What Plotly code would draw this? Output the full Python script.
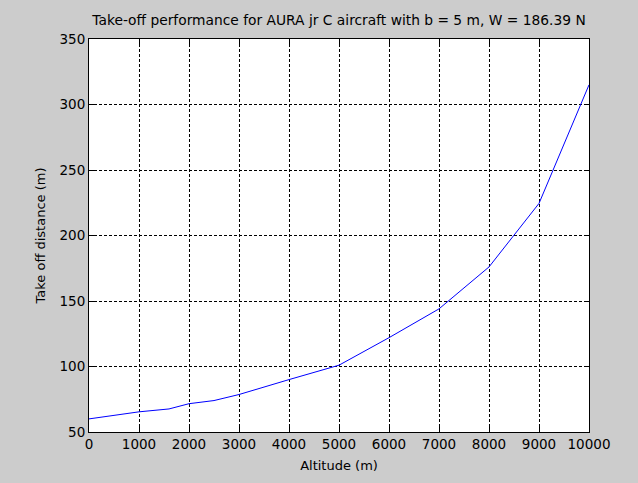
import plotly.graph_objects as go

# Take-off distance versus altitude
altitude_m = [0, 1000, 1600, 2000, 2500, 3000, 4000, 5000, 6000, 7000, 8000, 9000, 10000]
takeoff_distance_m = [60, 65.4, 67.6, 71.6, 74.0, 78.6, 90.0, 101.0, 122.0, 144.0, 176.0, 224.5, 315.0]

x_ticks = [0, 1000, 2000, 3000, 4000, 5000, 6000, 7000, 8000, 9000, 10000]
y_ticks = [50, 100, 150, 200, 250, 300, 350]

FONT = "DejaVu Sans, Liberation Sans, sans-serif"

fig = go.Figure()
fig.add_trace(go.Scatter(
    x=altitude_m, y=takeoff_distance_m, mode="lines",
    line=dict(color="#0000ff", width=1),
    showlegend=False, hoverinfo="skip",
))

axis_common = dict(
    showline=True, linecolor="black", linewidth=1, mirror="ticks",
    ticks="inside", ticklen=5, tickcolor="black", tickwidth=1,
    showgrid=True, gridcolor="black", gridwidth=1, griddash="3px,2px",
    zeroline=False,
    tickfont=dict(family=FONT, size=13.5, color="black"),
)

fig.update_xaxes(
    range=[0, 10000], tickvals=x_ticks, ticktext=[str(v) for v in x_ticks],
    title=dict(text="Altitude (m)", font=dict(family=FONT, size=13, color="black"), standoff=9),
    **axis_common,
)
fig.update_yaxes(
    range=[50, 350], tickvals=y_ticks, ticktext=[str(v) for v in y_ticks],
    title=dict(text="Take off distance (m)", font=dict(family=FONT, size=13, color="black"), standoff=10),
    **axis_common,
)

fig.update_layout(
    width=638, height=483,
    margin=dict(l=89, r=49, t=39, b=51),
    paper_bgcolor="#cccccc", plot_bgcolor="white",
    title=dict(
        text="Take-off performance for AURA jr C aircraft with b = 5 m, W = 186.39 N",
        font=dict(family=FONT, size=13.8, color="black"),
        x=0.5, xanchor="center", xref="paper",
        y=1 - 20 / 483, yanchor="middle", yref="container",
    ),
)

fig.write_html("out.html")
